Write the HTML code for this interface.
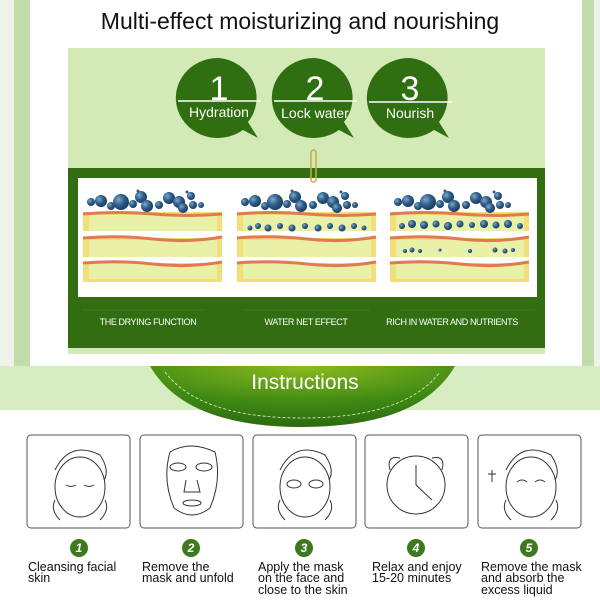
<!DOCTYPE html>
<html><head><meta charset="utf-8"><style>
body{margin:0;width:600px;height:600px;overflow:hidden;background:#fff;font-family:"Liberation Sans",sans-serif}
svg text{font-family:"Liberation Sans",sans-serif}
</style></head><body>
<svg width="600" height="600" viewBox="0 0 600 600" xmlns="http://www.w3.org/2000/svg">
<defs>
<radialGradient id="bub" cx="0.35" cy="0.35" r="0.7"><stop offset="0" stop-color="#7fa8c8"/><stop offset="0.5" stop-color="#2f5f8a"/><stop offset="1" stop-color="#173a5c"/></radialGradient>
<radialGradient id="dome" cx="0.5" cy="0" r="1"><stop offset="0" stop-color="#8dbb1e"/><stop offset="0.6" stop-color="#3f8a14"/><stop offset="1" stop-color="#2d6a10"/></radialGradient>
<g id="cake">
<rect x="0" y="0" width="139" height="70" fill="#f3df7a"/>
<rect x="6" y="3" width="128" height="16" fill="#e9f0a8"/>
<rect x="6" y="28" width="128" height="17" fill="#e9f0a8"/>
<rect x="6" y="52" width="128" height="15" fill="#e9f0a8"/>
<path d="M0 19 h139 v7 h-139z M0 45 h139 v6 h-139z" fill="#fff"/>
<path d="M0 2 Q35 -1 70 2 T139 2" stroke="#e27a4d" stroke-width="3" fill="none"/>
<path d="M0 26 Q35 23 70 27 T139 25" stroke="#e27a4d" stroke-width="3" fill="none"/>
<path d="M0 51 Q35 48 70 52 T139 50" stroke="#e27a4d" stroke-width="3" fill="none"/>
</g>
<g id="bubs">
<circle cx="8" cy="-10" r="4" fill="url(#bub)"/><circle cx="18" cy="-11" r="6" fill="url(#bub)"/><circle cx="28" cy="-6" r="4" fill="url(#bub)"/><circle cx="38" cy="-10" r="8" fill="url(#bub)"/><circle cx="50" cy="-8" r="4" fill="url(#bub)"/><circle cx="58" cy="-15" r="6" fill="url(#bub)"/><circle cx="64" cy="-6" r="6" fill="url(#bub)"/><circle cx="76" cy="-7" r="4" fill="url(#bub)"/><circle cx="86" cy="-14" r="6" fill="url(#bub)"/><circle cx="96" cy="-10" r="6" fill="url(#bub)"/><circle cx="100" cy="-4" r="5" fill="url(#bub)"/><circle cx="108" cy="-16" r="4" fill="url(#bub)"/><circle cx="110" cy="-7" r="4" fill="url(#bub)"/><circle cx="118" cy="-7" r="3" fill="url(#bub)"/><circle cx="55" cy="-21" r="1.5" fill="#2f5f8a"/><circle cx="104" cy="-20" r="1.5" fill="#2f5f8a"/>
</g>
</defs>
<rect x="0" y="0" width="600" height="366" fill="#eef3ea"/>
<rect x="14" y="0" width="16" height="366" fill="#c2ddac"/>
<rect x="582" y="0" width="12" height="366" fill="#c2ddac"/>
<rect x="30" y="0" width="552" height="366" fill="#fff"/>
<text x="300" y="29" font-size="23" text-anchor="middle" fill="#111">Multi-effect moisturizing and nourishing</text>
<rect x="68" y="48" width="477" height="306" fill="#d3eab7"/>
<g fill="#2f6f12">
<path d="M219 58a42 40 0 1 0 24 72l15 8-10-16a42 40 0 0 0-29-64z"/>
<path d="M315 58a42 40 0 1 0 24 72l15 8-10-16a42 40 0 0 0-29-64z"/>
<path d="M410 58a42 40 0 1 0 24 72l15 8-10-16a42 40 0 0 0-29-64z"/>
</g>
<g stroke="#fff" stroke-width="1.5"><line x1="178" y1="101" x2="261" y2="101"/><line x1="274" y1="101" x2="357" y2="101"/><line x1="369" y1="102" x2="452" y2="102"/></g>
<g fill="#fff" text-anchor="middle">
<text x="219" y="100" font-size="34">1</text><text x="315" y="100" font-size="34">2</text><text x="410" y="100" font-size="34">3</text>
<text x="219" y="117" font-size="14">Hydration</text><text x="315" y="118" font-size="14">Lock water</text><text x="410" y="118" font-size="14">Nourish</text>
</g>
<rect x="68" y="168" width="477" height="180" fill="#326d12"/>
<rect x="78" y="178" width="459" height="119" fill="#fff"/>
<rect x="311" y="150" width="5" height="32" rx="2.5" fill="none" stroke="#c9a94a" stroke-width="1.5"/>
<use href="#cake" x="83" y="212"/><use href="#cake" x="237" y="212"/><use href="#cake" x="390" y="212"/>
<use href="#bubs" x="83" y="212"/><use href="#bubs" x="237" y="212"/><use href="#bubs" x="390" y="212"/>
<g fill="url(#bub)">
<circle cx="250" cy="228" r="2.5"/><circle cx="258" cy="226" r="3"/><circle cx="268" cy="228" r="3.5"/><circle cx="280" cy="226" r="3"/><circle cx="292" cy="228" r="3.5"/><circle cx="305" cy="226" r="3"/><circle cx="318" cy="228" r="3.5"/><circle cx="330" cy="226" r="3"/><circle cx="342" cy="228" r="3.5"/><circle cx="354" cy="226" r="3"/><circle cx="364" cy="228" r="2.5"/>
<circle cx="402" cy="226" r="3"/><circle cx="412" cy="224" r="4"/><circle cx="424" cy="225" r="4"/><circle cx="436" cy="224" r="3.5"/><circle cx="448" cy="226" r="4"/><circle cx="460" cy="224" r="3.5"/><circle cx="472" cy="225" r="3"/><circle cx="484" cy="224" r="4"/><circle cx="496" cy="225" r="3.5"/><circle cx="508" cy="224" r="4"/><circle cx="520" cy="226" r="3"/>
<circle cx="405" cy="251" r="2"/><circle cx="412" cy="250" r="2.5"/><circle cx="420" cy="251" r="2"/><circle cx="440" cy="250" r="1.5"/><circle cx="470" cy="251" r="2"/><circle cx="495" cy="250" r="2.5"/><circle cx="505" cy="251" r="2.5"/><circle cx="513" cy="250" r="2"/>
</g>
<g stroke="#4f8a30" stroke-width="0.6"><line x1="82" y1="310" x2="205" y2="310"/><line x1="245" y1="310" x2="370" y2="310"/><line x1="400" y1="310" x2="535" y2="310"/></g>
<g fill="#fff" font-size="9" text-anchor="middle" letter-spacing="-0.4">
<text x="148" y="325">THE DRYING FUNCTION</text><text x="306" y="325">WATER NET EFFECT</text><text x="452" y="325">RICH IN WATER AND NUTRIENTS</text>
</g>
<rect x="0" y="366" width="600" height="44" fill="#d6ecc1"/>
<path d="M150 366 H455 Q420 427 302 427 Q185 427 150 366Z" fill="url(#dome)"/>
<path d="M165 372 Q200 418 302 418 Q405 418 440 372" fill="none" stroke="#e7f3cf" stroke-width="0.8" stroke-dasharray="3 2"/>
<text x="305" y="389" font-size="21" fill="#fff" text-anchor="middle">Instructions</text>
<g fill="#fff" stroke="#555" stroke-width="1">
<rect x="27" y="435" width="103" height="93" rx="4"/><rect x="140" y="435" width="103" height="93" rx="4"/><rect x="253" y="435" width="103" height="93" rx="4"/><rect x="365" y="435" width="103" height="93" rx="4"/><rect x="478" y="435" width="103" height="93" rx="4"/>
</g>
<g fill="none" stroke="#333" stroke-width="1">
<ellipse cx="80" cy="487" rx="25" ry="30"/><path d="M55 470 Q70 440 100 455 Q110 470 104 480"/><path d="M66 485 Q71 488 76 485 M84 485 Q89 488 94 485"/><path d="M55 500 Q50 510 60 520 M105 500 Q110 510 100 520"/>
<path d="M170 452 Q190 440 215 452 Q222 480 210 508 Q192 522 174 508 Q162 480 170 452Z"/><ellipse cx="178" cy="467" rx="8" ry="4"/><ellipse cx="204" cy="467" rx="8" ry="4"/><path d="M186 480 L184 492 H200 L197 480"/><ellipse cx="192" cy="503" rx="9" ry="3"/>
<ellipse cx="305" cy="487" rx="25" ry="30"/><path d="M280 470 Q295 440 325 455 Q335 470 329 480"/><ellipse cx="294" cy="484" rx="7" ry="4"/><ellipse cx="316" cy="484" rx="7" ry="4"/><path d="M280 500 Q275 510 285 520 M330 500 Q335 510 325 520"/>
<circle cx="416" cy="485" r="29"/><path d="M416 485 V465 M416 485 L432 500"/><path d="M390 470 Q386 455 400 458 M442 470 Q446 455 432 458"/>
<ellipse cx="531" cy="487" rx="25" ry="30"/><path d="M506 470 Q521 440 551 455 Q561 470 555 480"/><path d="M517 482 Q522 478 527 482 M535 482 Q540 478 545 482"/><path d="M492 470 V482 M488 474 H496"/><path d="M506 500 Q501 510 511 520 M556 500 Q561 510 551 520"/>
</g>
<g fill="#3d7a1d"><circle cx="79" cy="548" r="9"/><circle cx="191" cy="548" r="9"/><circle cx="304" cy="548" r="9"/><circle cx="416" cy="548" r="9"/><circle cx="529" cy="548" r="9"/></g>
<g fill="#fff" font-size="12" font-weight="bold" font-style="italic" text-anchor="middle"><text x="79" y="552">1</text><text x="191" y="552">2</text><text x="304" y="552">3</text><text x="416" y="552">4</text><text x="529" y="552">5</text></g>
<g fill="#111" font-size="12.5">
<text x="28" y="571">Cleansing facial</text><text x="28" y="582">skin</text>
<text x="142" y="571">Remove the</text><text x="142" y="582">mask and unfold</text>
<text x="258" y="571">Apply the mask</text><text x="258" y="582">on the face and</text><text x="258" y="594">close to the skin</text>
<text x="372" y="571">Relax and enjoy</text><text x="372" y="582">15-20 minutes</text>
<text x="481" y="571">Remove the mask</text><text x="481" y="582">and absorb the</text><text x="481" y="594">excess liquid</text>
</g>
</svg>
</body></html>
